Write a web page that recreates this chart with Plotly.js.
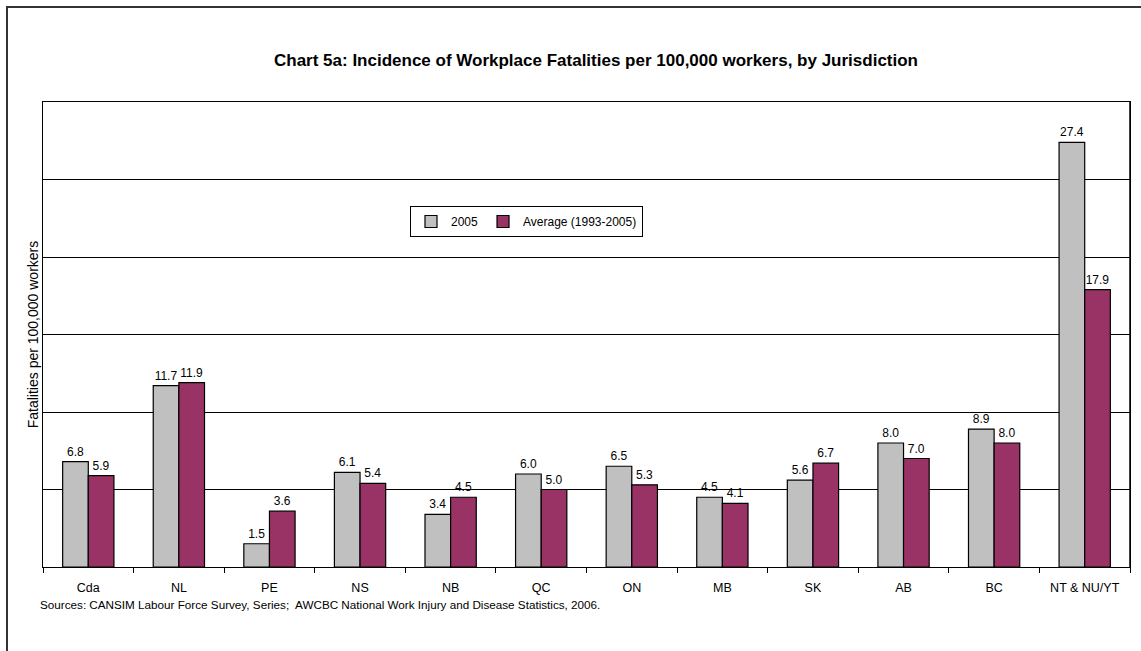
<!DOCTYPE html>
<html>
<head>
<meta charset="utf-8">
<script src="https://cdn.plot.ly/plotly-3.0.1.min.js"></script>
<style>html,body{margin:0;padding:0;background:#fff;overflow:hidden;}#chart{width:1141px;height:651px;}</style>
</head>
<body>
<div id="chart"></div>
<script>
const categories = ["Cda", "NL", "PE", "NS", "NB", "QC", "ON", "MB", "SK", "AB", "BC", "NT & NU/YT"];
const values2005 = [6.8, 11.7, 1.5, 6.1, 3.4, 6.0, 6.5, 4.5, 5.6, 8.0, 8.9, 27.4];
const valuesAvg = [5.9, 11.9, 3.6, 5.4, 4.5, 5.0, 5.3, 4.1, 6.7, 7.0, 8.0, 17.9];
const seriesNames = ["2005", "Average (1993-2005)"];

const FONT = "Liberation Sans, Arial, sans-serif";
const W = 1141, H = 651;
const L = 43, R = 11, T = 102, B = 84;
const pw = W - L - R, ph = H - T - B;
const px2x = p => (p - L) / pw;
const py2y = p => (H - B - p) / ph;

function barTrace(name, vals, color) {
  return {
    type: "bar",
    name: name,
    x: categories,
    y: vals,
    text: vals.map(v => v.toFixed(1)),
    textposition: "outside",
    textfont: {family: FONT, size: 12, color: "#000"},
    cliponaxis: false,
    marker: {color: color, line: {color: "#000", width: 1.2}},
    hoverinfo: "x+y+name"
  };
}

const data = [
  barTrace(seriesNames[0], values2005, "#C0C0C0"),
  barTrace(seriesNames[1], valuesAvg, "#993366")
];

const layout = {
  width: W, height: H,
  margin: {l: L, r: R, t: T, b: B, pad: 0},
  paper_bgcolor: "#fff",
  plot_bgcolor: "#fff",
  font: {family: FONT, color: "#000", size: 12},
  barmode: "group",
  bargap: 0.434,
  bargroupgap: 0,
  title: {
    text: "Chart 5a: Incidence of Workplace Fatalities per 100,000 workers, by Jurisdiction",
    font: {family: FONT, size: 17, color: "#000", weight: "bold"},
    x: 596 / W, xanchor: "center",
    y: 1 - 60 / H, yanchor: "middle"
  },
  xaxis: {
    type: "category",
    showline: true, linecolor: "#000", linewidth: 1, mirror: true,
    ticks: "outside", tickson: "boundaries", ticklen: 5, tickcolor: "#000",
    tickfont: {family: FONT, size: 12.5, color: "#000"},
    ticklabelstandoff: 9,
    showgrid: false, zeroline: false, fixedrange: true
  },
  yaxis: {
    range: [0, 30],
    dtick: 5,
    showticklabels: false,
    ticks: "",
    showgrid: true, gridcolor: "#000", gridwidth: 1,
    showline: true, linecolor: "#000", linewidth: 1, mirror: "all",
    zeroline: false, fixedrange: true,
    title: {text: "Fatalities per 100,000 workers", font: {family: FONT, size: 14, color: "#000"}, standoff: 0}
  },
  legend: {
    orientation: "h",
    x: px2x(526.5), xanchor: "center",
    y: py2y(206), yanchor: "top",
    bgcolor: "#fff", bordercolor: "#000", borderwidth: 1,
    font: {family: FONT, size: 12, color: "#000"},
    itemwidth: 30,
    traceorder: "normal"
  },
  shapes: [
    {type: "rect", xref: "paper", yref: "paper",
     x0: px2x(7), x1: px2x(1160), y0: py2y(670), y1: py2y(7),
     line: {color: "#333", width: 2}, fillcolor: "rgba(0,0,0,0)", layer: "below"},
    {type: "line", xref: "paper", yref: "paper",
     x0: 1, x1: 1, y0: 0, y1: 1,
     line: {color: "#000", width: 1.5}, layer: "above"}
  ],
  annotations: [
    {text: "Sources: CANSIM Labour Force Survey, Series;  AWCBC National Work Injury and Disease Statistics, 2006.",
     xref: "paper", yref: "paper", x: px2x(38), y: py2y(604), xanchor: "left", yanchor: "middle",
     showarrow: false, font: {family: FONT, size: 11.7, color: "#000"}}
  ]
};

Plotly.newPlot("chart", data, layout, {displayModeBar: false, staticPlot: false});
</script>
</body>
</html>
